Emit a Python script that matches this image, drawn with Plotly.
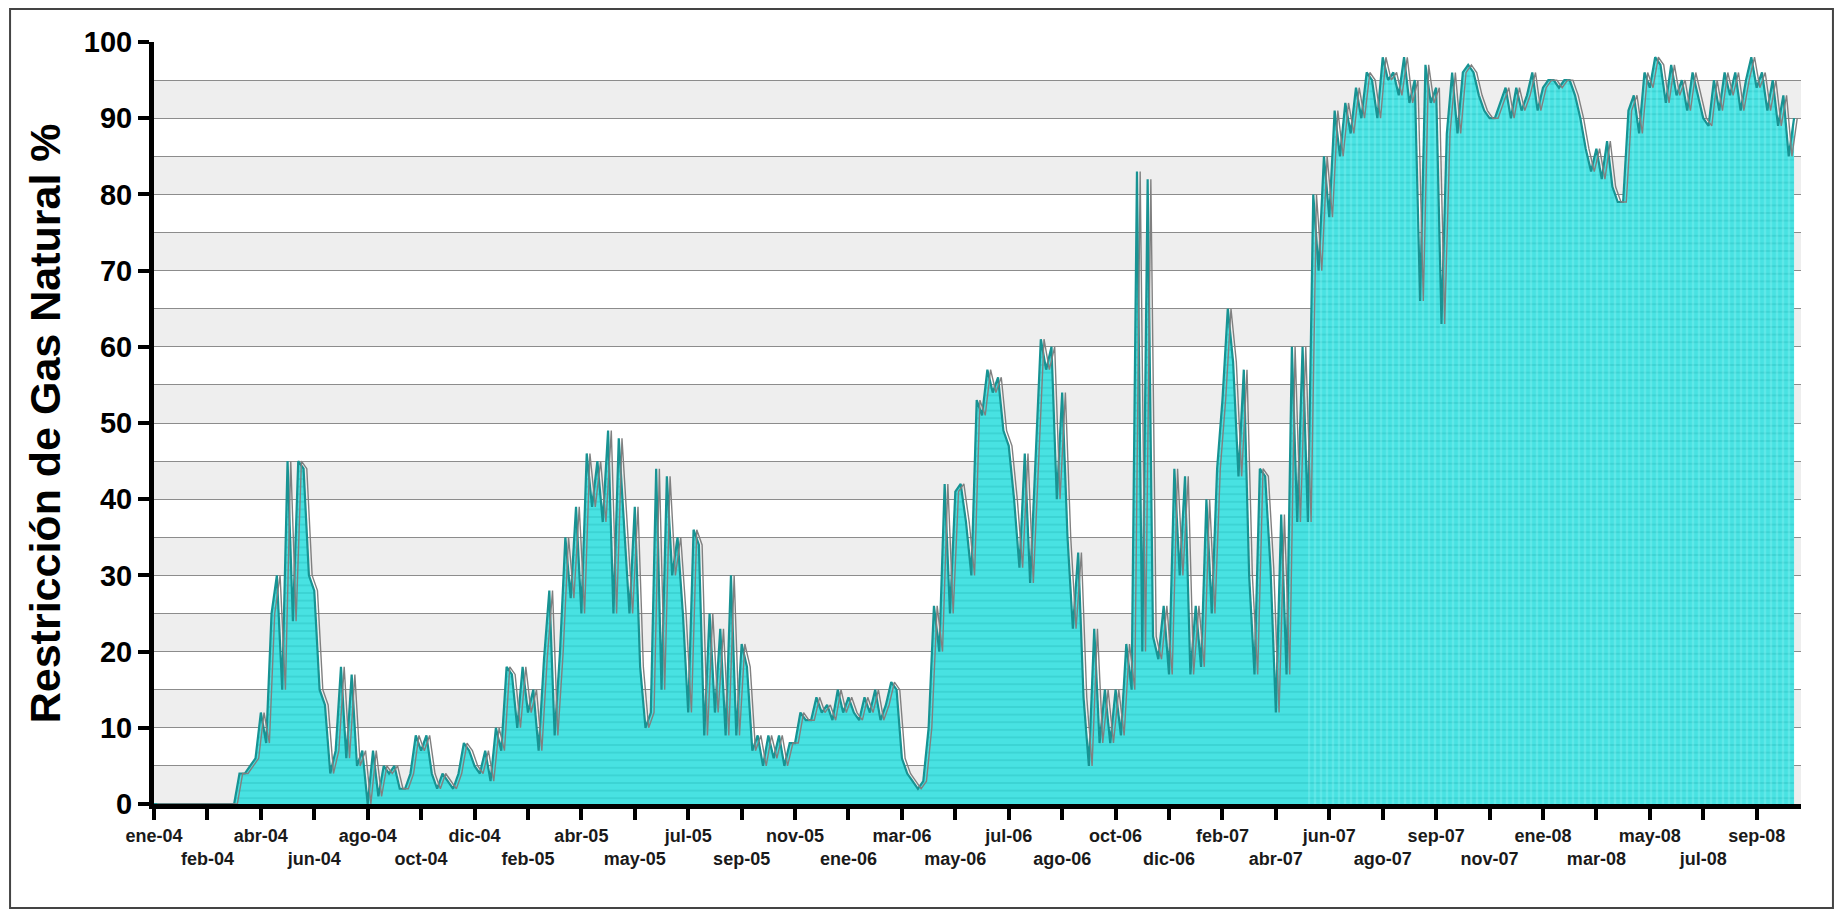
import plotly.graph_objects as go

# Daily-ish samples of natural gas restriction (%)
restriccion_pct = [
    0, 0, 0, 0, 0, 0, 0, 0, 0, 0,
    0, 0, 0, 0, 0, 0, 4, 4, 5, 6,
    12, 8, 25, 30, 15, 45, 24, 45, 44, 30,
    28, 15, 13, 4, 7, 18, 6, 17, 5, 7,
    0, 7, 1, 5, 4, 5, 2, 2, 4, 9,
    7, 9, 4, 2, 4, 3, 2, 4, 8, 7,
    5, 4, 7, 3, 10, 7, 18, 17, 10, 18,
    12, 15, 7, 19, 28, 9, 20, 35, 27, 39,
    25, 46, 39, 45, 37, 49, 25, 48, 36, 25,
    39, 18, 10, 12, 44, 15, 43, 30, 35, 25,
    12, 36, 34, 9, 25, 12, 23, 9, 30, 9,
    21, 18, 7, 9, 5, 9, 6, 9, 5, 8,
    8, 12, 11, 11, 14, 12, 13, 11, 15, 12,
    14, 12, 11, 14, 12, 15, 11, 13, 16, 15,
    6, 4, 3, 2, 3, 10, 26, 20, 42, 25,
    41, 42, 37, 30, 53, 51, 57, 54, 56, 49,
    47, 40, 31, 46, 29, 45, 61, 57, 60, 40,
    54, 35, 23, 33, 14, 5, 23, 8, 15, 8,
    15, 9, 21, 15, 83, 20, 82, 22, 19, 26,
    17, 44, 30, 43, 17, 26, 18, 40, 25, 44,
    53, 65, 58, 43, 57, 30, 17, 44, 43, 31,
    12, 38, 17, 60, 37, 60, 37, 80, 70, 85,
    77, 91, 85, 92, 88, 94, 90, 96, 95, 90,
    98, 95, 96, 93, 98, 92, 95, 66, 97, 92,
    94, 63, 88, 96, 88, 96, 97, 96, 93, 91,
    90, 90, 92, 94, 90, 94, 91, 93, 96, 91,
    94, 95, 95, 94, 95, 95, 93, 90, 86, 83,
    86, 82, 87, 81, 79, 79, 91, 93, 88, 96,
    94, 98, 97, 92, 97, 93, 95, 91, 96, 93,
    90, 89, 95, 91, 96, 93, 96, 91, 95, 98,
    94, 96, 91, 95, 89, 93, 85, 90,
]

tick_labels = [
    "ene-04", "feb-04", "abr-04", "jun-04", "ago-04", "oct-04", "dic-04",
    "feb-05", "abr-05", "may-05", "jul-05", "sep-05", "nov-05", "ene-06",
    "mar-06", "may-06", "jul-06", "ago-06", "oct-06", "dic-06", "feb-07",
    "abr-07", "jun-07", "ago-07", "sep-07", "nov-07", "ene-08", "mar-08",
    "may-08", "jul-08", "sep-08",
]
samples_per_tick = 10
dense_start = 216   # sample where the densely striped (2007-08) part begins

y_title = "Restricción de Gas Natural %"

x_idx = list(range(len(restriccion_pct)))
tickvals = [i * samples_per_tick for i in range(len(tick_labels))]
ticktext = [lab if i % 2 == 0 else "<br>" + lab for i, lab in enumerate(tick_labels)]

FONT = "Liberation Sans, Arial, sans-serif"

fig = go.Figure()

# filled area
fig.add_trace(go.Scatter(
    x=x_idx, y=restriccion_pct, mode="lines",
    line=dict(width=0, color="rgba(0,0,0,0)"),
    fill="tozeroy", fillcolor="#48e2e2",
    fillpattern=dict(shape="-", bgcolor="#48e2e2", fgcolor="#22b9b9",
                     size=7.6, solidity=0.16),
    hoverinfo="skip", showlegend=False,
))
# lighter vertical striping of the dense 2007-08 part
fig.add_trace(go.Scatter(
    x=x_idx[dense_start:], y=restriccion_pct[dense_start:], mode="lines",
    line=dict(width=0, color="rgba(0,0,0,0)"),
    fill="tozeroy", fillcolor="rgba(0,0,0,0)",
    fillpattern=dict(shape="|", bgcolor="rgba(0,0,0,0)",
                     fgcolor="rgba(150,245,245,0.6)", size=6, solidity=0.4),
    hoverinfo="skip", showlegend=False,
))
# grey shadow line (drawn on a slightly offset overlay axis)
fig.add_trace(go.Scatter(
    x=x_idx, y=restriccion_pct, mode="lines",
    line=dict(width=1.4, color="#808080"), xaxis="x2",
    showlegend=False,
))
# teal line
fig.add_trace(go.Scatter(
    x=x_idx, y=restriccion_pct, mode="lines",
    line=dict(width=2.2, color="#179393"),
    showlegend=False,
))

shapes = []
for k in range(0, 100, 10):
    shapes.append(dict(type="rect", xref="paper", yref="y", x0=0, x1=1,
                       y0=k, y1=k + 5, fillcolor="#eeeeee",
                       line=dict(width=0), layer="below"))
# outer frame
shapes.append(dict(type="rect", xref="paper", yref="paper",
                   x0=-0.0874, x1=1.0194, y0=-0.1365, y1=1.0433,
                   line=dict(color="#444", width=2), fillcolor="rgba(0,0,0,0)"))

fig.update_layout(
    width=1827, height=902,
    margin=dict(l=146, r=34, t=34, b=106),
    paper_bgcolor="white", plot_bgcolor="white",
    font=dict(family=FONT, color="black"),
    shapes=shapes,
    xaxis=dict(
        range=[0, 308.3], tickmode="array", tickvals=tickvals, ticktext=ticktext,
        tickangle=0,
        tickfont=dict(size=18, weight="bold", color="#1a1a1a", family=FONT),
        showgrid=False, zeroline=False,
        showline=True, linewidth=5, linecolor="black",
        ticks="outside", ticklen=11, tickwidth=4, tickcolor="black",
    ),
    xaxis2=dict(range=[-0.6, 307.7], overlaying="x", visible=False),
    yaxis=dict(
        range=[0, 100], dtick=10, tick0=0,
        tickfont=dict(size=29, weight="bold", color="black", family=FONT),
        showgrid=True, gridcolor="#8c8c8c", gridwidth=1,
        minor=dict(dtick=5, showgrid=True, gridcolor="#8c8c8c", gridwidth=1),
        zeroline=False,
        showline=True, linewidth=5, linecolor="black",
        ticks="outside", ticklen=11, tickwidth=4, tickcolor="black",
    ),
    annotations=[dict(
        text="<b>" + y_title + "</b>", textangle=-90,
        xref="paper", yref="paper", x=-0.066, y=0.5,
        xanchor="center", yanchor="middle", showarrow=False,
        font=dict(size=43, color="black", family=FONT),
    )],
)

fig.write_html("out.html")
